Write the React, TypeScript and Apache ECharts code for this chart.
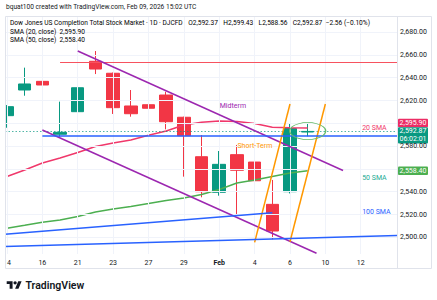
import React, { useEffect, useRef } from "react";
import * as echarts from "echarts";

const FONT = "Roboto, 'Noto Sans', Arial, sans-serif";
const UP = "#089981";
const DOWN = "#F23645";
const PINK = "#F0386B";
const GREEN = "#4CAF50";
const BLUE = "#2962FF";
const PURPLE = "#9C27B0";
const ORANGE = "#FF9800";
const TEXT = "#131722";
const GRIDC = "#F0F3FA";

// trading days (index = x value)
const dayLabels = ["14", "15", "16", "20", "21", "22", "23", "26", "27", "28", "29", "30", "Feb", "3", "4", "5", "6", "9", "10", "11", "12", "13", "17"];
const xTickIdx = [0, 2, 4, 6, 8, 10, 12, 14, 16, 18, 20];
const yTicks = [2500, 2520, 2540, 2560, 2580, 2600, 2620, 2640, 2660, 2680];

const opens = [2606.7, 2629.2, 2636.8, 2590.4, 2610.2, 2654.4, 2643.9, 2615.2, 2616.3, 2624.8, 2605.3, 2570.7, 2539.5, 2572.5, 2566.0, 2528.9, 2540.0, 2592.37];
const closes = [2614.6, 2634.5, 2633.6, 2592.1, 2631.2, 2647.6, 2613.7, 2608.4, 2613.2, 2601.4, 2589.1, 2540.0, 2564.0, 2558.8, 2549.6, 2505.5, 2595.43, 2592.87];
const lows = [2596.1, 2624.2, 2627.7, 2588.2, 2595.6, 2643.2, 2608.2, 2605.8, 2603.5, 2594.7, 2553.2, 2535.1, 2536.5, 2520.4, 2514.6, 2498.2, 2538.5, 2588.56];
const highs = [2616.0, 2648.8, 2649.6, 2619.0, 2641.5, 2663.4, 2644.5, 2629.2, 2619.6, 2627.7, 2605.8, 2589.7, 2575.7, 2581.0, 2570.2, 2550.3, 2600.0, 2599.43];

const sma20 = [2553.3, 2559.0, 2565.2, 2569.6, 2574.4, 2579.6, 2582.7, 2585.4, 2589.5, 2593.2, 2598.5, 2600.9, 2602.0, 2601.6, 2599.8, 2596.5, 2596.1, 2595.9];
const sma50 = [2508.0, 2510.5, 2513.2, 2515.2, 2518.2, 2522.2, 2524.8, 2527.0, 2529.6, 2532.3, 2534.5, 2537.5, 2541.9, 2547.6, 2550.3, 2553.3, 2556.4, 2558.4];

const X_MIN = -0.113;
const X_MAX = 22.05;

// drawn trend lines: [x, value] pairs
const trendFrom = [[3, 2653.5], [4, 2663.4], [2, 2594.1], [14, 2495.6], [16, 2496.1], [2, 2588.9], [X_MIN, 2502.6], [X_MIN, 2492.0]];
const trendTo = [[X_MAX, 2653.5], [19, 2558.6], [17.5, 2486.0], [16, 2616.9], [18, 2616.9], [X_MAX, 2588.9], [15, 2521.6], [X_MAX, 2501.5]];
const trendColors = ["#F7525F", PURPLE, PURPLE, ORANGE, ORANGE, BLUE, BLUE, BLUE];
const trendWidths = [1, 1.5, 1.5, 1.5, 1.5, 1.5, 1.5, 1.5];

// text drawings
const noteTexts = ["Midterm", "Short-Term", "20 SMA", "50 SMA", "100 SMA"];
const noteX = [12, 13, 20.05, 20.05, 20.05];
const noteY = [2615.2, 2580.0, 2595.9, 2552.0, 2522.2];
const noteColors = [PURPLE, ORANGE, PINK, "#22AB94", BLUE];

const ellipseAt = [17, 2593.2];

const title = "Dow Jones US Completion Total Stock Market · 1D · DJCFD";
const watermark = "bquat100 created with TradingView.com, Feb 09, 2026 15:02 UTC";
const countdown = "06:02:01";

const TV_LOGO = "M14 22H7V11H0V4h14v18zM28 22h-8l7.5-18h8L28 22zM24 8a4 4 0 1 1-8 0a4 4 0 1 1 8 0z";
let logoRegistered = false;

const fmt = (v: number) => v.toLocaleString("en-US", { minimumFractionDigits: 2, maximumFractionDigits: 2 });

export default function App() {
  const ref = useRef<HTMLDivElement>(null);
  useEffect(() => {
    if (!ref.current) return;
    if (!logoRegistered) {
      echarts.graphic.registerShape("tvlogo", echarts.graphic.extendPath(TV_LOGO, {}) as any);
      logoRegistered = true;
    }
    const chart = echarts.init(ref.current, undefined, { renderer: "svg" });
    const n = opens.length;
    const last = n - 1;
    const candleData = opens.map((o, i) => [i, o, closes[i], lows[i], highs[i]]);
    const GRID_L = 5, GRID_R = 40, GRID_T = 17, GRID_B = 46;

    const yLabelBase = {
      margin: 3,
      fontSize: 7,
      fontFamily: FONT,
      color: TEXT,
      formatter: (v: number) => fmt(v),
    };

    const option: any = {
      animation: false,
      backgroundColor: "#ffffff",
      grid: { left: GRID_L, right: GRID_R, top: GRID_T, bottom: GRID_B, containLabel: false },
      xAxis: {
        type: "value",
        min: X_MIN,
        max: X_MAX,
        axisLine: { show: false },
        axisTick: { show: false },
        splitLine: { show: false },
        axisLabel: {
          customValues: xTickIdx,
          margin: 5,
          fontSize: 7,
          fontFamily: FONT,
          color: TEXT,
          formatter: (v: number) => {
            const s = dayLabels[Math.round(v)] || "";
            return isNaN(Number(s)) ? `{b|${s}}` : s;
          },
          rich: { b: { fontWeight: "bold", fontSize: 7, fontFamily: FONT, color: TEXT } },
        },
      },
      yAxis: {
        type: "value",
        position: "right",
        min: 2485.35,
        max: 2693.25,
        scale: true,
        axisLine: { show: false },
        axisTick: { show: false },
        splitLine: { show: false },
        axisLabel: { ...yLabelBase, customValues: yTicks },
      },
      series: [
        {
          type: "line",
          name: "grid",
          z: 0,
          data: [[-5, 0]],
          showSymbol: false,
          lineStyle: { opacity: 0 },
          silent: true,
          markLine: {
            silent: true,
            symbol: ["none", "none"],
            label: { show: false },
            lineStyle: { color: GRIDC, width: 1, type: "solid" },
            data: [
              ...yTicks.map((v) => ({ yAxis: v })),
              ...xTickIdx.map((i) => ({ xAxis: i })),
            ],
          },
        },
        {
          type: "candlestick",
          name: "DJCFD",
          z: 2,
          barWidth: 13,
          encode: { x: 0, y: [1, 2, 3, 4] },
          data: candleData,
          itemStyle: { color: UP, color0: DOWN, borderColor: UP, borderColor0: DOWN, borderWidth: 1 },
          markLine: {
            silent: true,
            symbol: ["none", "none"],
            label: { show: false },
            lineStyle: { color: UP, width: 1, type: [1.5, 2], opacity: 0.7 },
            data: [{ yAxis: closes[last] }],
          },
        },
        {
          type: "line",
          name: "SMA 20",
          z: 3,
          data: sma20.map((v, i) => [i, v]),
          showSymbol: false,
          lineStyle: { color: PINK, width: 1.5 },
          markPoint: {
            silent: true,
            data: noteTexts.map((t, k) => ({
              coord: [noteX[k], noteY[k]],
              symbol: "circle",
              symbolSize: 1,
              itemStyle: { color: "rgba(0,0,0,0)" },
              label: { show: true, position: "right", distance: 0, formatter: t, color: noteColors[k], fontSize: 7, fontFamily: FONT },
            })).concat([
              {
                coord: ellipseAt,
                symbol: "circle",
                symbolSize: [36, 17],
                itemStyle: { color: "rgba(0,0,0,0)", borderColor: "#66BB6A", borderWidth: 1 },
                label: { show: false },
              } as any,
            ]),
          },
        },
        {
          type: "line",
          name: "SMA 50",
          z: 3,
          data: sma50.map((v, i) => [i, v]),
          showSymbol: false,
          lineStyle: { color: GREEN, width: 1.5 },
          markLine: {
            silent: true,
            symbol: ["none", "none"],
            label: { show: false },
            data: trendFrom.map((f, k) => [
              { coord: f, lineStyle: { color: trendColors[k], width: trendWidths[k], type: "solid" } },
              { coord: trendTo[k] },
            ]),
          },
        },
      ],
    };
    chart.setOption(option);

    const py = (v: number) => chart.convertToPixel({ yAxisIndex: 0 }, v) as unknown as number;
    const W = 437, H = 300;
    const gridRight = W - GRID_R;
    const tagX = gridRight + 1;
    const tagW = 30;
    const yClose = py(closes[last]);
    const closeTop = yClose - 4.2;
    const ySma20 = py(sma20[last]);
    const pinkBottom = Math.min(ySma20 + 4.2, closeTop);
    const ySma50 = py(sma50[last]);

    const tagRects = [
      [pinkBottom - 8.4, pinkBottom],
      [closeTop, closeTop + 16.2],
      [ySma50 - 4.2, ySma50 + 4.2],
    ];
    // price-scale labels hidden behind the price tags
    const visibleTicks = yTicks.filter((v) => {
      const y = py(v);
      return !tagRects.some(([a, b]) => y > a - 1 && y < b - 2);
    });

    const chg = closes[last] - closes[last - 1];
    const pct = (chg / closes[last - 1]) * 100;
    const sign = chg < 0 ? "−" : "+";

    const tag = (yTop: number, h: number, color: string, text: string) => ({
      type: "group",
      z: 100,
      children: [
        { type: "rect", shape: { x: tagX, y: yTop, width: tagW, height: h, r: 1 }, style: { fill: color } },
        {
          type: "text",
          x: tagX + tagW / 2,
          y: yTop + h / 2,
          style: { text, fill: "#fff", font: `7px ${FONT}`, align: "center", verticalAlign: "middle", lineHeight: 8 },
        },
      ],
    });

    const hdrRich = {
      t: { fontSize: 6.6, fontFamily: FONT, color: TEXT },
      k: { fontSize: 6.6, fontFamily: FONT, color: TEXT, padding: [0, 0, 0, 2] },
      v: { fontSize: 6.6, fontFamily: FONT, color: UP },
      p: { fontSize: 6.6, fontFamily: FONT, color: PINK },
      g: { fontSize: 6.6, fontFamily: FONT, color: GREEN },
    };

    const graphic: any[] = [
      { type: "rect", z: 50, silent: true, shape: { x: 0, y: 0, width: GRID_L, height: H }, style: { fill: "#fff" } },
      {
        type: "rect", z: 60, silent: true,
        shape: { x: 5.5, y: 16.5, width: 426, height: 252 },
        style: { fill: "none", stroke: "#E0E3EB", lineWidth: 1 },
      },
      {
        type: "line", z: 60, silent: true,
        shape: { x1: gridRight + 0.5, y1: 16.5, x2: gridRight + 0.5, y2: 268.5 },
        style: { stroke: "#E0E3EB", lineWidth: 1 },
      },
      {
        type: "text", z: 60, x: 6, y: 7,
        style: { text: watermark, font: `6.6px ${FONT}`, fill: TEXT, verticalAlign: "middle" },
      },
      {
        type: "text", z: 60, x: 10, y: 23,
        style: {
          text: `{t|${title}} {k|O}{v|${fmt(opens[last])}} {k|H}{v|${fmt(highs[last])}} {k|L}{v|${fmt(lows[last])}} {k|C}{v|${fmt(closes[last])}} {v|${sign}${fmt(Math.abs(chg))} (${sign}${Math.abs(pct).toFixed(2)}%)}`,
          rich: hdrRich,
          verticalAlign: "middle",
        },
      },
      {
        type: "text", z: 60, x: 10, y: 32,
        style: { text: `{t|SMA (20, close)} {p|${fmt(sma20[last])}}`, rich: hdrRich, verticalAlign: "middle" },
      },
      {
        type: "text", z: 60, x: 10, y: 40,
        style: { text: `{t|SMA (50, close)} {g|${fmt(sma50[last])}}`, rich: hdrRich, verticalAlign: "middle" },
      },
      tag(pinkBottom - 8.4, 8.4, "#EC2D65", fmt(sma20[last])),
      tag(closeTop, 16.2, UP, `${fmt(closes[last])}\n${countdown}`),
      tag(ySma50 - 4.2, 8.4, GREEN, fmt(sma50[last])),
      {
        type: "tvlogo", z: 60, x: 6.7, y: 279.5, scaleX: 0.42, scaleY: 0.42,
        style: { fill: TEXT },
      },
      {
        type: "text", z: 60, x: 25.5, y: 285,
        style: { text: "TradingView", font: `600 10.5px ${FONT}`, fill: TEXT, verticalAlign: "middle" },
      },
    ];
    chart.setOption({
      yAxis: { axisLabel: { ...yLabelBase, customValues: visibleTicks } },
      graphic,
    });

    return () => chart.dispose();
  }, []);

  return (
    <div
      ref={ref}
      style={{ position: "fixed", left: 0, top: 0, width: 437, height: 300, background: "#fff" }}
    />
  );
}
